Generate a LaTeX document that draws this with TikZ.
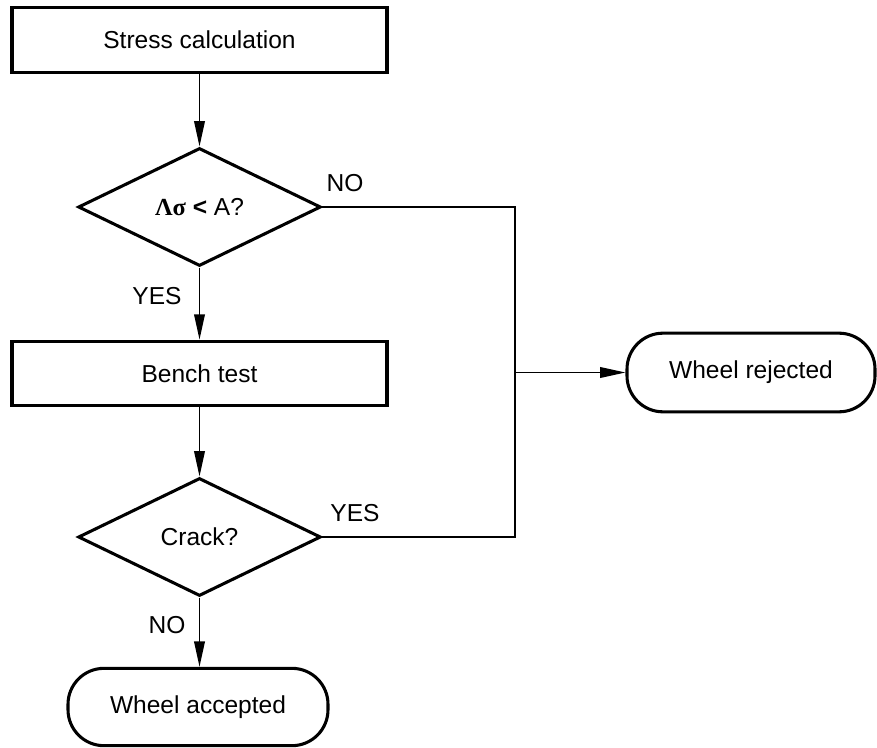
\documentclass[tikz,border=0pt]{standalone}
\usepackage{fontspec}
\setmainfont{Liberation Sans}
\newfontfamily\serifbold{Liberation Serif}
\usetikzlibrary{shapes.geometric,arrows.meta}
\tikzset{
  boxline/.style={draw=black, line width=2.3pt},
  procbox/.style={boxline, rectangle, inner sep=0pt, minimum width=281.25pt, minimum height=48.5pt},
  decbox/.style={boxline, diamond, inner sep=0pt, minimum width=182pt, minimum height=88.5pt},
  termbox/.style={boxline, rectangle, rounded corners=27pt, inner sep=0pt},
  conn/.style={draw=black, line width=1.1pt},
  arr/.style={conn, -{Triangle[length=19pt,width=8pt]}},
  lbl/.style={inner sep=0pt, anchor=base}
}
\begin{document}
\begin{tikzpicture}[x=0.75pt, y=-0.75pt, font=\fontsize{18.4}{21}\selectfont]
\useasboundingbox (0,0) rectangle (877,748);
\node[procbox] (stress) at (199.5,40) {Stress calculation};
\node[decbox] (d1) at (199.5,207) {{\serifbold\bfseries Λσ} \textbf{<} A?};
\node[procbox] (bench) at (199.5,373.5) {Bench test};
\node[decbox] (d2) at (199.5,537) {Crack?};
\node[termbox, minimum width=195pt, minimum height=58pt] (acc) at (198,707) {Wheel accepted};
\node[termbox, minimum width=186pt, minimum height=59pt] (rej) at (751,372.5) {Wheel rejected};
\coordinate (c1) at (515,207);
\coordinate (c2) at (515,537);
\coordinate (cj) at (515,372.5);
\draw[arr] (stress.south) -- (d1.north);
\draw[arr] (d1.south) -- (bench.north);
\draw[arr] (bench.south) -- (d2.north);
\draw[arr] (d2.south) -- (d2.south |- acc.north);
\draw[conn] (d1.east) -- (c1) -- (c2) -- (d2.east);
\draw[arr] (cj) -- (rej.west);
\node[lbl] (lno1) at (345,192) {NO};
\node[lbl] (lyes1) at (157,305) {YES};
\node[lbl] (lyes2) at (355,521) {YES};
\node[lbl] (lno2) at (167,633) {NO};
\end{tikzpicture}
\end{document}
